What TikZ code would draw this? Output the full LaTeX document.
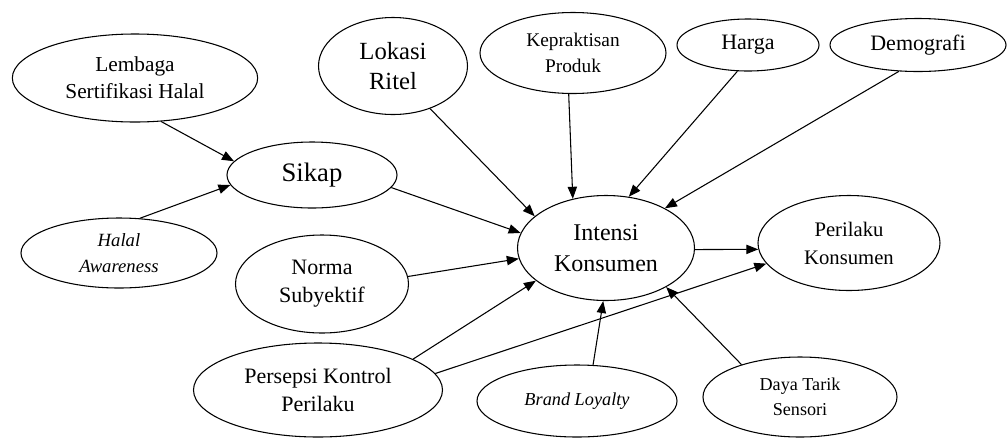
\documentclass[tikz,border=0pt]{standalone}
\usepackage{fontspec}
\setmainfont{Liberation Serif}
\usetikzlibrary{shapes.geometric,arrows.meta}

\begin{document}
\begin{tikzpicture}[x=0.75pt,y=-0.75pt,
  oval/.style={draw,ellipse,inner sep=0pt,align=center,line width=0.8pt},
  arr/.style={-{Triangle[length=9pt,width=7pt]},line width=0.8pt}]
\useasboundingbox (0,0) rectangle (1008,437);

\node[oval,minimum width=184pt,minimum height=66pt,font=\fontsize{16}{20}\selectfont] (lembaga) at (135,78) {Lembaga\\Sertifikasi Halal};
\node[oval,minimum width=147pt,minimum height=52.5pt,font=\fontsize{14}{19.5}\selectfont\itshape] (halal) at (119,253) {Halal\\Awareness};
\node[oval,minimum width=127.5pt,minimum height=49.5pt,font=\fontsize{20}{24}\selectfont] (sikap) at (312,175) {Sikap};
\node[oval,minimum width=111.75pt,minimum height=72.75pt,font=\fontsize{18.5}{22.5}\selectfont] (lokasi) at (393,66) {Lokasi\\Ritel};
\node[oval,minimum width=139.5pt,minimum height=60.75pt,font=\fontsize{14.5}{19}\selectfont] (praktis) at (573,53) {Kepraktisan\\Produk};
\node[oval,minimum width=106.5pt,minimum height=39pt,font=\fontsize{16.5}{20}\selectfont] (harga) at (748,45) {Harga};
\node[oval,minimum width=132pt,minimum height=39.75pt,font=\fontsize{16.5}{20}\selectfont] (demografi) at (918,45) {Demografi};

\node[oval,minimum width=132.75pt,minimum height=78.75pt,font=\fontsize{18}{23}\selectfont] (intensi) at (606,248) {Intensi\\Konsumen};
\node[oval,minimum width=136.5pt,minimum height=71.25pt,font=\fontsize{15.5}{21}\selectfont] (perilaku) at (849,243) {Perilaku\\Konsumen};

\node[oval,minimum width=129.75pt,minimum height=73.5pt,font=\fontsize{16.5}{21}\selectfont] (norma) at (322,284) {Norma\\Subyektif};
\node[oval,minimum width=186.75pt,minimum height=70.5pt,font=\fontsize{16.5}{21}\selectfont] (persepsi) at (318,390) {Persepsi Kontrol\\Perilaku};
\node[oval,minimum width=150pt,minimum height=54pt,font=\fontsize{13.7}{18}\selectfont\itshape] (brand) at (577,401) {Brand Loyalty};
\node[oval,minimum width=145.5pt,minimum height=60pt,font=\fontsize{13.6}{19}\selectfont] (daya) at (800,397) {Daya Tarik\\Sensori};

% pengaruh
\draw[arr] (lembaga.-59) -- (sikap.170);
\draw[arr] (halal.59) -- (sikap.187);
\draw[arr] (sikap.-9) -- (intensi.170);
\draw[arr] (lokasi.-49) -- (intensi.156);
\draw[arr] (praktis.-96) -- (intensi.124);
\draw[arr] (harga.-112) -- (intensi.66);
\draw[arr] (demografi.-126) -- (intensi.34);
\draw[arr] (norma.5) -- (intensi.187);
\draw[arr] (persepsi.18) -- (intensi.205);
\draw[arr] (persepsi.8) -- (perilaku.194);
\draw[arr] (brand.66) -- (intensi.-93);
\draw[arr] (daya.151) -- (intensi.-33);
\draw[arr] (intensi.-1) -- (perilaku.184);
\end{tikzpicture}
\end{document}
